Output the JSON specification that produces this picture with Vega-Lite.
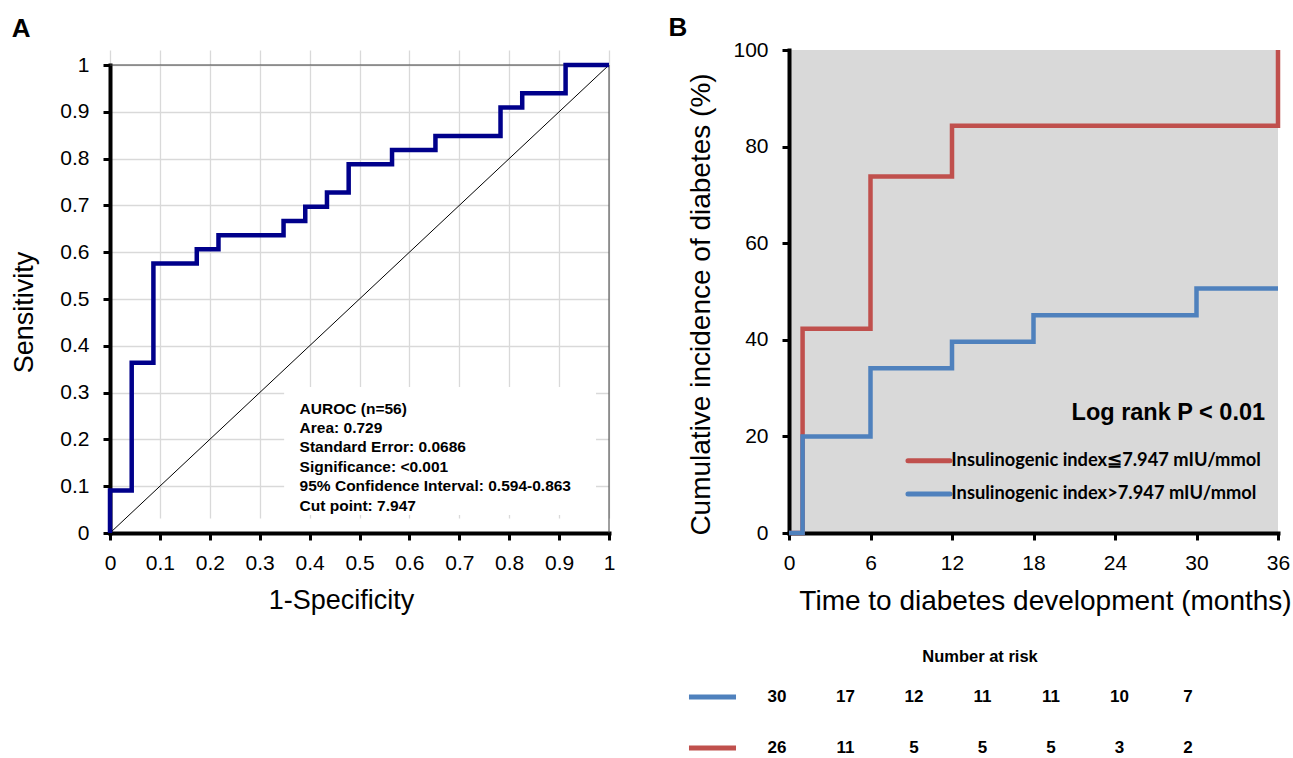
{
  "$schema": "https://vega.github.io/schema/vega-lite/v6.json",
  "background": "white",
  "padding": {"left": 10, "top": 15, "right": 0, "bottom": 0},
  "spacing": 50,
  "config": {
    "font": "Liberation Sans",
    "axis": {
      "labelFont": "Liberation Sans", "titleFont": "Liberation Sans",
      "labelFontSize": 21, "titleFontSize": 27, "titleFontWeight": "normal",
      "labelColor": "black", "titleColor": "black",
      "domainColor": "black", "domainWidth": 4, "domainCap": "square",
      "tickColor": "black", "tickWidth": 3, "tickSize": 7,
      "labelFlush": false, "labelOverlap": false, "labelBound": false
    },
    "title": {"font": "Liberation Sans", "fontSize": 26, "fontWeight": "bold", "color": "black", "anchor": "start", "frame": "bounds"}
  },
  "datasets": {
    "roc": [
      {"fpr": 0, "tpr": 0},
      {"fpr": 0.0435, "tpr": 0.0909},
      {"fpr": 0.087, "tpr": 0.3636},
      {"fpr": 0.1739, "tpr": 0.5758},
      {"fpr": 0.2174, "tpr": 0.6061},
      {"fpr": 0.3478, "tpr": 0.6364},
      {"fpr": 0.3913, "tpr": 0.6667},
      {"fpr": 0.4348, "tpr": 0.697},
      {"fpr": 0.4783, "tpr": 0.7273},
      {"fpr": 0.5652, "tpr": 0.7879},
      {"fpr": 0.6522, "tpr": 0.8182},
      {"fpr": 0.7826, "tpr": 0.8485},
      {"fpr": 0.8261, "tpr": 0.9091},
      {"fpr": 0.913, "tpr": 0.9394},
      {"fpr": 1, "tpr": 1}
    ],
    "km": [
      {"group": "≦7.947", "time": 0, "cum": 0},
      {"group": "≦7.947", "time": 1, "cum": 42.3},
      {"group": "≦7.947", "time": 6, "cum": 73.8},
      {"group": "≦7.947", "time": 12, "cum": 84.3},
      {"group": "≦7.947", "time": 36, "cum": 100},
      {"group": ">7.947", "time": 0, "cum": 0},
      {"group": ">7.947", "time": 1, "cum": 20},
      {"group": ">7.947", "time": 6, "cum": 34.1},
      {"group": ">7.947", "time": 12, "cum": 39.6},
      {"group": ">7.947", "time": 18, "cum": 45.1},
      {"group": ">7.947", "time": 30, "cum": 50.6},
      {"group": ">7.947", "time": 36, "cum": 50.6}
    ],
    "risk": [
      {"group": ">7.947", "time": 0, "n": 30},
      {"group": ">7.947", "time": 6, "n": 17},
      {"group": ">7.947", "time": 12, "n": 12},
      {"group": ">7.947", "time": 18, "n": 11},
      {"group": ">7.947", "time": 24, "n": 11},
      {"group": ">7.947", "time": 30, "n": 10},
      {"group": ">7.947", "time": 36, "n": 7},
      {"group": "≦7.947", "time": 0, "n": 26},
      {"group": "≦7.947", "time": 6, "n": 11},
      {"group": "≦7.947", "time": 12, "n": 5},
      {"group": "≦7.947", "time": 18, "n": 5},
      {"group": "≦7.947", "time": 24, "n": 5},
      {"group": "≦7.947", "time": 30, "n": 3},
      {"group": "≦7.947", "time": 36, "n": 2}
    ]
  },
  "hconcat": [
    {
      "width": 499,
      "height": 483,
      "title": {"text": "A", "offset": 8.5, "dx": 1},
      "view": {"stroke": null},
      "layer": [
        {
          "data": {"values": [{}]},
          "mark": {"type": "rect", "fill": "white"},
          "encoding": {
            "x": {"datum": 0.349, "type": "quantitative"},
            "x2": {"datum": 0.974},
            "y": {"datum": 0.312, "type": "quantitative"},
            "y2": {"datum": 0.0385}
          }
        },
        {
          "data": {"values": [{}]},
          "mark": {"type": "rule", "color": "#404040", "strokeWidth": 1},
          "encoding": {
            "x": {"datum": 0, "type": "quantitative"},
            "x2": {"datum": 1},
            "y": {"datum": 1, "type": "quantitative"}
          }
        },
        {
          "data": {"values": [{}]},
          "mark": {"type": "rule", "color": "#404040", "strokeWidth": 1},
          "encoding": {
            "x": {"datum": 1, "type": "quantitative"},
            "y": {"datum": 0, "type": "quantitative"},
            "y2": {"datum": 1}
          }
        },
        {
          "data": {"values": [{}]},
          "mark": {"type": "rule", "color": "black", "strokeWidth": 1},
          "encoding": {
            "x": {"datum": 0, "type": "quantitative"},
            "x2": {"datum": 1},
            "y": {"datum": 0, "type": "quantitative"},
            "y2": {"datum": 1}
          }
        },
        {
          "data": {"name": "roc"},
          "mark": {"type": "line", "interpolate": "step-before", "color": "#00008B", "strokeWidth": 4.5},
          "encoding": {
            "x": {
              "field": "fpr", "type": "quantitative",
              "scale": {"domain": [0, 1], "nice": false},
              "axis": {
                "values": [0, 0.1, 0.2, 0.3, 0.4, 0.5, 0.6, 0.7, 0.8, 0.9, 1],
                "format": "~g", "grid": true, "gridColor": "#d9d9d9", "gridWidth": 1.3,
                "title": "1-Specificity", "labelPadding": 12, "titlePadding": 14, "titleX": 231
              }
            },
            "y": {
              "field": "tpr", "type": "quantitative",
              "scale": {"domain": [0, 1], "range": [483, 15], "nice": false},
              "axis": {
                "values": [0, 0.1, 0.2, 0.3, 0.4, 0.5, 0.6, 0.7, 0.8, 0.9, 1],
                "format": "~g", "grid": true, "gridColor": "#d9d9d9", "gridWidth": 1.3,
                "title": "Sensitivity", "labelPadding": 14, "titlePadding": 21, "titleY": 262
              }
            }
          }
        },
        {
          "data": {"values": [{}]},
          "mark": {
            "type": "text", "align": "left", "baseline": "alphabetic",
            "font": "Liberation Sans", "fontWeight": "bold", "fontSize": 15.5, "lineHeight": 19.4, "color": "black",
            "text": ["AUROC (n=56)", "Area: 0.729", "Standard Error: 0.0686", "Significance: <0.001", "95% Confidence Interval: 0.594-0.863", "Cut point: 7.947"]
          },
          "encoding": {
            "x": {"datum": 0.38, "type": "quantitative"},
            "y": {"datum": 0.255, "type": "quantitative"}
          }
        }
      ]
    },
    {
      "width": 489,
      "height": 483,
      "title": {"text": "B", "offset": -2, "dx": -18},
      "view": {"fill": "#d9d9d9", "stroke": null},
      "layer": [
        {
          "layer": [
            {
              "data": {"name": "km"},
              "transform": [{"filter": "datum.group === '≦7.947'"}],
              "mark": {"type": "line", "interpolate": "step-after", "color": "#C0504D", "strokeWidth": 4.5},
              "encoding": {
                "x": {
                  "field": "time", "type": "quantitative",
                  "scale": {"domain": [0, 36], "nice": false},
                  "axis": {
                    "values": [0, 6, 12, 18, 24, 30, 36], "grid": false, "titleFontSize": 28,
                    "title": "Time to diabetes development (months)", "labelPadding": 12, "titlePadding": 14, "titleX": 256
                  }
                },
                "y": {
                  "field": "cum", "type": "quantitative",
                  "scale": {"domain": [0, 100], "nice": false},
                  "axis": {
                    "values": [0, 20, 40, 60, 80, 100], "grid": false, "titleFontSize": 28,
                    "title": "Cumulative incidence of diabetes (%)", "labelPadding": 14, "titlePadding": 17, "titleY": 254
                  }
                }
              }
            },
            {
              "data": {"name": "km"},
              "transform": [{"filter": "datum.group === '>7.947'"}],
              "mark": {"type": "line", "interpolate": "step-after", "color": "#4F81BD", "strokeWidth": 4.5},
              "encoding": {
                "x": {"field": "time", "type": "quantitative"},
                "y": {"field": "cum", "type": "quantitative"}
              }
            },
            {
              "data": {"values": [{}]},
              "mark": {"type": "text", "text": "Log rank P < 0.01", "align": "right", "baseline": "middle", "font": "Liberation Sans", "fontWeight": "bold", "fontSize": 23.5, "color": "black"},
              "encoding": {
                "x": {"datum": 35.05, "type": "quantitative"},
                "y": {"datum": 24.8, "type": "quantitative"}
              }
            },
            {
              "data": {"values": [{}]},
              "mark": {"type": "rule", "color": "#C0504D", "strokeWidth": 5, "strokeCap": "round"},
              "encoding": {
                "x": {"datum": 8.76, "type": "quantitative"},
                "x2": {"datum": 11.85},
                "y": {"datum": 14.97, "type": "quantitative"}
              }
            },
            {
              "data": {"values": [{}]},
              "mark": {"type": "rule", "color": "#4F81BD", "strokeWidth": 5, "strokeCap": "round"},
              "encoding": {
                "x": {"datum": 8.76, "type": "quantitative"},
                "x2": {"datum": 11.85},
                "y": {"datum": 8.07, "type": "quantitative"}
              }
            },
            {
              "data": {"values": [{}]},
              "mark": {"type": "text", "text": "Insulinogenic index≦7.947 mIU/mmol", "align": "left", "baseline": "middle", "font": "Lato", "fontWeight": "bold", "fontSize": 18.3, "color": "black"},
              "encoding": {
                "x": {"datum": 11.95, "type": "quantitative"},
                "y": {"datum": 14.97, "type": "quantitative"}
              }
            },
            {
              "data": {"values": [{}]},
              "mark": {"type": "text", "text": "Insulinogenic index>7.947 mIU/mmol", "align": "left", "baseline": "middle", "font": "Lato", "fontWeight": "bold", "fontSize": 18.3, "color": "black"},
              "encoding": {
                "x": {"datum": 11.95, "type": "quantitative"},
                "y": {"datum": 8.07, "type": "quantitative"}
              }
            },
            {
              "data": {"values": [{}]},
              "mark": {"type": "text", "text": "Number at risk", "align": "center", "baseline": "middle", "font": "Liberation Sans", "fontWeight": "bold", "fontSize": 16.5, "color": "black"},
              "encoding": {
                "x": {"datum": 14.06, "type": "quantitative"},
                "y": {"datum": -25.7, "type": "quantitative"}
              }
            }
          ]
        },
        {
          "layer": [
            {
              "data": {"name": "risk"},
              "mark": {"type": "text", "align": "center", "baseline": "middle", "font": "Liberation Sans", "fontWeight": "bold", "fontSize": 17, "color": "black"},
              "encoding": {
                "x": {"field": "time", "type": "quantitative", "scale": {"domain": [0, 36], "range": [-12, 399], "nice": false, "zero": false}, "axis": null},
                "y": {"field": "group", "type": "nominal", "scale": {"domain": [">7.947", "≦7.947"], "range": [621.5, 723.5]}, "axis": null},
                "text": {"field": "n", "type": "quantitative"}
              }
            },
            {
              "data": {"values": [{}]},
              "mark": {"type": "rule", "color": "#4F81BD", "strokeWidth": 5},
              "encoding": {
                "x": {"datum": -7.71, "type": "quantitative"},
                "x2": {"datum": -3.59},
                "y": {"datum": ">7.947", "type": "nominal"}
              }
            },
            {
              "data": {"values": [{}]},
              "mark": {"type": "rule", "color": "#C0504D", "strokeWidth": 5},
              "encoding": {
                "x": {"datum": -7.71, "type": "quantitative"},
                "x2": {"datum": -3.59},
                "y": {"datum": "≦7.947", "type": "nominal"}
              }
            }
          ]
        }
      ],
      "resolve": {"scale": {"x": "independent", "y": "independent"}}
    }
  ]
}
